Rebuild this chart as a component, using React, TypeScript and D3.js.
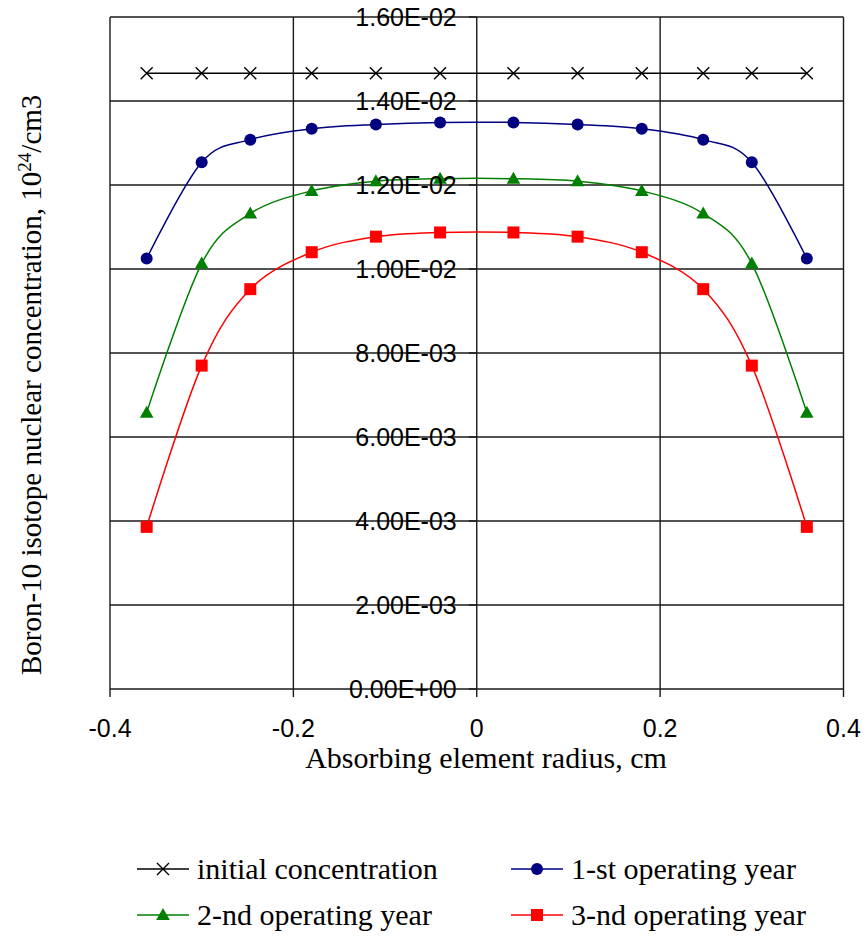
import React from "react";
import * as d3 from "d3";

const radius = [-0.36, -0.3, -0.247, -0.18, -0.11, -0.04, 0.04, 0.11, 0.18, 0.247, 0.3, 0.36];
const initial = [0.01466, 0.01466, 0.01466, 0.01466, 0.01466, 0.01466, 0.01466, 0.01466, 0.01466, 0.01466, 0.01466, 0.01466];
const year1 = [0.01025, 0.01254, 0.01308, 0.01334, 0.01344, 0.01349, 0.01349, 0.01344, 0.01334, 0.01308, 0.01254, 0.01025];
const year2 = [0.00658, 0.01013, 0.01132, 0.01186, 0.01209, 0.01215, 0.01215, 0.01209, 0.01186, 0.01132, 0.01013, 0.00658];
const year3 = [0.00386, 0.0077, 0.00952, 0.0104, 0.01077, 0.01087, 0.01087, 0.01077, 0.0104, 0.00952, 0.0077, 0.00386];

const xTicks = [-0.4, -0.2, 0, 0.2, 0.4];
const xTickLabels = ["-0.4", "-0.2", "0", "0.2", "0.4"];
const yTicks = [0, 0.002, 0.004, 0.006, 0.008, 0.01, 0.012, 0.014, 0.016];
const yTickLabels = ["0.00E+00", "2.00E-03", "4.00E-03", "6.00E-03", "8.00E-03", "1.00E-02", "1.20E-02", "1.40E-02", "1.60E-02"];

const seriesNames = ["initial concentration", "1-st operating year", "2-nd operating year", "3-nd operating year"];
const seriesColors = ["#000000", "#000080", "#008000", "#FF0000"];
const seriesMarkers = ["x", "circle", "triangle", "square"];

const W = 867;
const H = 936;
const SERIF = "'Liberation Serif', 'Times New Roman', serif";
const SANS = "'Liberation Sans', Arial, sans-serif";

function Marker({ type, x, y, color }: { type: string; x: number; y: number; color: string }) {
  if (type === "x") {
    const s = 6;
    return (
      <path d={`M${x - s},${y - s}L${x + s},${y + s}M${x - s},${y + s}L${x + s},${y - s}`} stroke={color} strokeWidth={1.4} fill="none" />
    );
  }
  if (type === "circle") return <circle cx={x} cy={y} r={6} fill={color} />;
  if (type === "triangle") {
    return <path d={`M${x},${y - 7}L${x + 6.8},${y + 5}L${x - 6.8},${y + 5}Z`} fill={color} />;
  }
  return <rect x={x - 6} y={y - 6} width={12} height={12} fill={color} />;
}

export default function App() {
  const x = d3.scaleLinear().domain([-0.4, 0.4]).range([110, 843.5]);
  const y = d3.scaleLinear().domain([0, 0.016]).range([689, 17]);
  const allSeries = [initial, year1, year2, year3];
  const line = d3
    .line<number>()
    .x((_, i) => x(radius[i]))
    .y((d) => y(d))
    .curve(d3.curveCardinal.tension(0));

  const gridColor = "#1a1a1a";
  const x0 = x(0);

  return (
    <svg width={W} height={H} style={{ position: "absolute", left: 0, top: 0, background: "#fff" }}>
      <rect x={0} y={0} width={W} height={H} fill="#fff" />
      {yTicks.map((t) => (
        <line key={"gy" + t} x1={x(-0.4)} x2={x(0.4)} y1={y(t)} y2={y(t)} stroke={gridColor} strokeWidth={1.4} />
      ))}
      {xTicks.map((t) => (
        <line key={"gx" + t} x1={x(t)} x2={x(t)} y1={y(0)} y2={y(0.016)} stroke={gridColor} strokeWidth={1.4} />
      ))}
      {xTicks.map((t) => (
        <line key={"tx" + t} x1={x(t)} x2={x(t)} y1={y(0)} y2={y(0) + 8} stroke={gridColor} strokeWidth={1.4} />
      ))}
      {yTicks.map((t) => (
        <line key={"ty" + t} x1={x0 - 8} x2={x0} y1={y(t)} y2={y(t)} stroke={gridColor} strokeWidth={1.4} />
      ))}
      {allSeries.map((s, si) => (
        <g key={"s" + si}>
          <path d={line(s) || ""} fill="none" stroke={seriesColors[si]} strokeWidth={1.5} />
          {s.map((v, i) => (
            <Marker key={i} type={seriesMarkers[si]} x={x(radius[i])} y={y(v)} color={seriesColors[si]} />
          ))}
        </g>
      ))}
      {yTicks.map((t, i) => (
        <text key={"ly" + t} x={x0 - 20} y={y(t) + 9} textAnchor="end" fontFamily={SANS} fontSize={25} fill="#000">
          {yTickLabels[i]}
        </text>
      ))}
      {xTicks.map((t, i) => (
        <text key={"lx" + t} x={x(t)} y={737} textAnchor="middle" fontFamily={SANS} fontSize={25} fill="#000">
          {xTickLabels[i]}
        </text>
      ))}
      <text x={486} y={768} textAnchor="middle" fontFamily={SERIF} fontSize={30} fill="#000">
        Absorbing element radius, cm
      </text>
      <text transform="translate(41,675) rotate(-90)" x={0} y={0} textAnchor="start" fontFamily={SERIF} fontSize={29} fill="#000">
        Boron-10 isotope nuclear concentration, 10
        <tspan baselineShift="super" fontSize={19}>24</tspan>
        /cm3
      </text>
      {seriesNames.map((name, i) => {
        const col = i % 2;
        const row = Math.floor(i / 2);
        const lx = col === 0 ? 137 : 511;
        const ly = row === 0 ? 869 : 915;
        return (
          <g key={"lg" + i}>
            <line x1={lx} x2={lx + 52} y1={ly} y2={ly} stroke={seriesColors[i]} strokeWidth={1.5} />
            <Marker type={seriesMarkers[i]} x={lx + 26} y={ly} color={seriesColors[i]} />
            <text x={lx + 60} y={ly + 10} fontFamily={SERIF} fontSize={30} fill="#000">
              {name}
            </text>
          </g>
        );
      })}
    </svg>
  );
}
